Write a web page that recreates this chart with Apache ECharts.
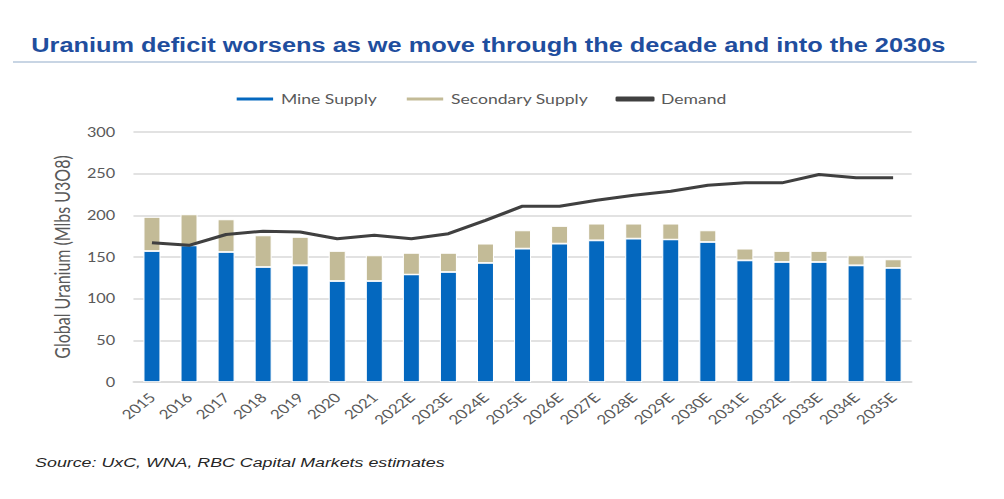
<!DOCTYPE html>
<html><head><meta charset="utf-8">
<script src="https://cdn.jsdelivr.net/npm/echarts@6/dist/echarts.min.js"></script>
<style>
html,body{margin:0;padding:0;background:#fff;overflow:hidden;width:1004px;height:499px}
#c{width:772px;height:499px;transform:scaleX(1.3005);transform-origin:0 0}
</style>
</head><body><div id="c"></div>
<script>
const categories = ['2015','2016','2017','2018','2019','2020','2021','2022E','2023E','2024E','2025E','2026E','2027E','2028E','2029E','2030E','2031E','2032E','2033E','2034E','2035E'];
const mineSupply = [157,164,156,138,140,121,121,129,132,143,160,166,170,172,171,168,146,144,144,140,137];
const secondarySupply = [41,37,39,38,34,36,31,26,23,23,22,21,20,18,19,14,14,13,13,12,10];
const demand = [167,164,177,181,180,172,176,172,178,194,211,211,218,224,229,236,239,239,249,245,245];
const yTicks = [0,50,100,150,200,250,300];

// The reference picture is a horizontally stretched chart; the chart is drawn
// at 772px wide and stretched by CSS to 1004px to reproduce that look.
const chart = echarts.init(document.getElementById('c'), null, { renderer: 'svg' });
const axisFont = 'Lato, "Noto Sans", sans-serif';
chart.setOption({
  animation: false,
  title: {
    text: 'Uranium deficit worsens as we move through the decade and into the 2030s',
    left: 24, top: 36, padding: 0,
    textStyle: { fontFamily: '"Liberation Sans", Arial, sans-serif', fontWeight: 'bold', fontSize: 19.5, color: '#1F4E9E' }
  },
  graphic: [
    { type: 'rect', shape: { x: 10, y: 61, width: 741, height: 2 }, style: { fill: '#C8D5E4' } },
    { type: 'text', left: 27, top: 455, style: { text: 'Source: UxC, WNA, RBC Capital Markets estimates', font: 'italic 13.7px "Liberation Sans", Arial, sans-serif', fill: '#262626' } }
  ],
  legend: {
    top: 87, left: 175, itemGap: 21, itemWidth: 30, itemHeight: 5,
    textStyle: { fontFamily: axisFont, fontSize: 13.5, color: '#595959' },
    data: [
      { name: 'Mine Supply', icon: 'rect' },
      { name: 'Secondary Supply', icon: 'rect' },
      { name: 'Demand', icon: 'roundRect' }
    ]
  },
  grid: { left: 102.6, right: 71, top: 132, bottom: 117, containLabel: false },
  xAxis: {
    type: 'category', data: categories,
    axisLine: { lineStyle: { color: '#D9D9D9', width: 1.5 } },
    axisTick: { show: false },
    axisLabel: { rotate: 45, fontFamily: axisFont, fontSize: 13, color: '#595959', margin: 13, interval: 0 }
  },
  yAxis: {
    type: 'value', min: yTicks[0], max: yTicks[yTicks.length-1], interval: 50,
    name: 'Global Uranium (Mlbs U3O8)', nameLocation: 'middle', nameGap: 44, nameRotate: 90,
    nameTextStyle: { fontFamily: axisFont, fontSize: 16, color: '#595959' },
    axisLine: { show: false }, axisTick: { show: false },
    axisLabel: { fontFamily: axisFont, fontSize: 12.5, color: '#595959', margin: 14 },
    splitLine: { lineStyle: { color: '#D9D9D9', width: 1.5 } }
  },
  series: [
    { name: 'Mine Supply', type: 'bar', stack: 's', data: mineSupply, barWidth: '46%',
      itemStyle: { color: '#0468BF', borderColor: '#ffffff', borderWidth: 0.8 } },
    { name: 'Secondary Supply', type: 'bar', stack: 's', data: secondarySupply, barWidth: '46%',
      itemStyle: { color: '#C3BB97', borderColor: '#ffffff', borderWidth: 0.8 } },
    { name: 'Demand', type: 'line', data: demand, symbol: 'none', z: 5,
      lineStyle: { color: '#404040', width: 3 }, itemStyle: { color: '#404040' } }
  ]
});
</script></body></html>
